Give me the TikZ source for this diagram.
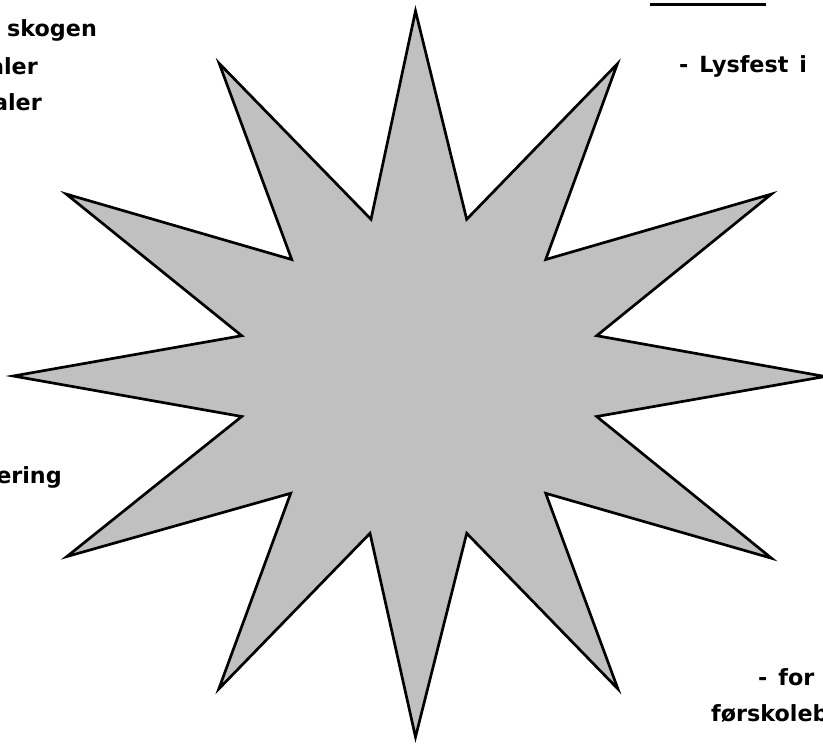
\documentclass[tikz,border=0pt]{standalone}
\usepackage{fontspec}
\newfontfamily\lblfont[WordSpace=1.4]{DejaVu Sans}
\usepackage{tikz}
\usetikzlibrary{positioning}
\usepackage{xcolor}
\definecolor{stargray}{RGB}{192,192,192}

\begin{document}
\begin{tikzpicture}[
  x=0.03cm, y=-0.03cm,
  lbl/.style={font=\lblfont\bfseries\fontsize{19}{22}\selectfont, inner sep=0pt},
  starline/.style={draw=black, fill=stargray, line width=2.3pt, line join=miter, miter limit=20},
  uline/.style={line width=2.6pt},
]

%% ---- PAGE ----
\useasboundingbox (0,0) rectangle (823,744);
\clip (0,0) rectangle (823,744);

%% ---- STAR (tips and notches, clockwise from top) ----
\foreach \i/\x/\y in {
   1/415.5/11,   2/466.7/219.3,  3/617.3/63.9,   4/545.7/259.5,
   5/771.4/194.1, 6/596.7/335.7, 7/825/376.5,    8/596.7/416.5,
   9/771.5/558.2, 10/545.7/493.3, 11/617.9/688.9, 12/466.7/533.3,
  13/415.5/737,  14/370/533.3,   15/218.8/688.9, 16/290.7/493.3,
  17/66.9/556.5, 18/241.7/416.5, 19/13.3/376,    20/241.7/335.7,
  21/66.3/194.1, 22/291.7/259.5, 23/219.2/63.4,  24/371/219.3}{
  \coordinate (s\i) at (\x,\y);
}
\draw[starline] (s1) \foreach \i in {2,...,24}{-- (s\i)} -- cycle;

%% ---- TEXT (cut at the page edges) ----
\node[lbl, anchor=base west] (skogen)   at (7,36.7)  {skogen};
\node[lbl, anchor=base east] (alerA)    at (38,74)   {aler};
\node[lbl, anchor=base east] (alerB)    at (42,110)  {aler};
\node[lbl, anchor=base east] (ering)    at (62,483)  {ering};
\node[lbl, anchor=base west] (lysfest)  at (679,72)  {- Lysfest i};
\node[lbl, anchor=base west] (forA)     at (758,685) {- for};
\node[lbl, anchor=base west] (forskole) at (711,721) {førskoleb};

%% ---- Underline of the title above the page ----
\coordinate (ulA) at (650,4.2);
\coordinate (ulB) at (765.7,4.2);
\draw[uline] (ulA) -- (ulB);

\end{tikzpicture}
\end{document}
